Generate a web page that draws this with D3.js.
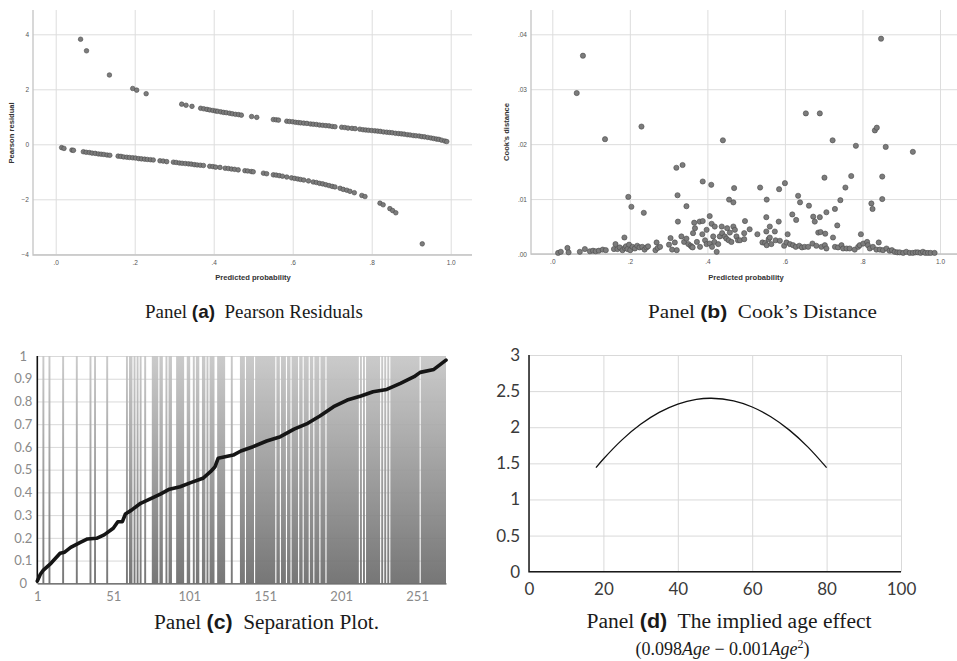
<!DOCTYPE html>
<html>
<head>
<meta charset="utf-8">
<script src="https://cdnjs.cloudflare.com/ajax/libs/d3/7.8.5/d3.min.js"></script>
<style>
	body { margin: 0; background: #fff; }
	svg { display: block; }
	.caption { font-family: 'Liberation Serif', 'Times New Roman', serif; fill: #1a1a1a; white-space: pre; }
	.caption .tag { font-family: 'Liberation Sans', Arial, sans-serif; font-weight: bold; }
</style>
</head>
<body>
<div class="container"></div>
<script>
// ---- panel (a): Pearson residuals, [predicted probability, residual]
var pearsonEvents = [
	[0.063, 3.82], [0.078, 3.40], [0.136, 2.52], [0.195, 2.03], [0.205, 1.97], [0.229, 1.84],
	[0.319, 1.46], [0.330, 1.42], [0.345, 1.38],
	[0.367, 1.31], [0.375, 1.29], [0.383, 1.27], [0.390, 1.25], [0.398, 1.23], [0.405, 1.21],
	[0.410, 1.20], [0.418, 1.18], [0.425, 1.16], [0.432, 1.15], [0.440, 1.13], [0.447, 1.11],
	[0.455, 1.09], [0.463, 1.08], [0.470, 1.06],
	[0.496, 1.01], [0.509, 0.98],
	[0.551, 0.90], [0.558, 0.89], [0.564, 0.88],
	[0.585, 0.84], [0.592, 0.83], [0.600, 0.82], [0.607, 0.80], [0.614, 0.79], [0.620, 0.78],
	[0.628, 0.77], [0.636, 0.76], [0.645, 0.74], [0.652, 0.73], [0.660, 0.72], [0.668, 0.70],
	[0.676, 0.69], [0.684, 0.68], [0.692, 0.67], [0.700, 0.65], [0.707, 0.64],
	[0.724, 0.62], [0.732, 0.61], [0.740, 0.59], [0.750, 0.58], [0.758, 0.57],
	[0.770, 0.55], [0.778, 0.53], [0.785, 0.52], [0.792, 0.51], [0.800, 0.50], [0.808, 0.49],
	[0.815, 0.48], [0.822, 0.47], [0.830, 0.45], [0.838, 0.44], [0.845, 0.43], [0.852, 0.42],
	[0.860, 0.40], [0.868, 0.39], [0.875, 0.38], [0.882, 0.37], [0.890, 0.35], [0.897, 0.34],
	[0.905, 0.32], [0.912, 0.31], [0.920, 0.30], [0.927, 0.28], [0.934, 0.27], [0.942, 0.25],
	[0.950, 0.23], [0.957, 0.21], [0.964, 0.19], [0.970, 0.18], [0.977, 0.15], [0.985, 0.12],
	[0.990, 0.10]
];

var pearsonNonEvents = [
	[0.015, -0.12], [0.021, -0.15], [0.041, -0.21], [0.045, -0.22],
	[0.070, -0.27], [0.077, -0.29], [0.085, -0.30], [0.092, -0.32], [0.100, -0.33], [0.108, -0.35],
	[0.115, -0.36], [0.122, -0.37], [0.130, -0.39], [0.137, -0.40],
	[0.158, -0.43], [0.165, -0.44], [0.172, -0.46], [0.180, -0.47], [0.187, -0.48], [0.195, -0.49],
	[0.202, -0.50], [0.210, -0.52], [0.217, -0.53], [0.225, -0.54], [0.232, -0.55], [0.240, -0.56],
	[0.247, -0.57],
	[0.264, -0.60], [0.272, -0.61], [0.281, -0.63],
	[0.298, -0.65], [0.305, -0.66], [0.313, -0.68], [0.320, -0.69], [0.328, -0.70], [0.336, -0.71],
	[0.343, -0.72], [0.351, -0.74], [0.358, -0.75], [0.366, -0.76], [0.374, -0.77],
	[0.390, -0.80], [0.398, -0.81], [0.405, -0.83], [0.416, -0.84],
	[0.429, -0.87], [0.437, -0.88], [0.445, -0.90], [0.453, -0.91], [0.462, -0.93],
	[0.479, -0.96], [0.486, -0.97], [0.495, -0.99], [0.500, -1.00],
	[0.526, -1.05], [0.534, -1.07],
	[0.551, -1.11], [0.558, -1.12], [0.566, -1.14], [0.574, -1.16], [0.585, -1.19],
	[0.597, -1.22], [0.605, -1.24], [0.613, -1.26], [0.620, -1.28], [0.628, -1.30], [0.640, -1.33],
	[0.652, -1.37], [0.660, -1.39], [0.668, -1.42], [0.676, -1.44], [0.684, -1.47], [0.692, -1.50],
	[0.700, -1.53], [0.707, -1.55],
	[0.720, -1.60], [0.728, -1.64], [0.737, -1.67], [0.745, -1.71],
	[0.756, -1.76],
	[0.775, -1.86], [0.783, -1.90],
	[0.821, -2.14], [0.829, -2.20],
	[0.846, -2.34], [0.853, -2.41], [0.861, -2.49],
	[0.928, -3.62]
];

var probTicks = [0, 0.2, 0.4, 0.6, 0.8, 1];
var pearsonTicks = [-4, -2, 0, 2, 4];

// ---- panel (b): Cook's distance, [predicted probability, distance]
var cookPoints = [
	[0.015, .0002], [0.022, .0004], [0.039, .0011], [0.042, .0003], [0.071, .0004], [0.084, .0009],
	[0.097, .0005], [0.105, .0006], [0.112, .0005], [0.120, .0006], [0.130, .0008], [0.138, .0007],
	[0.159, .0009], [0.163, .0018], [0.168, .0009], [0.174, .0012], [0.181, .0007], [0.186, .0030],
	[0.187, .0011], [0.190, .0014], [0.194, .0009], [0.198, .0017], [0.201, .0007], [0.207, .0013],
	[0.213, .0010], [0.219, .0015], [0.225, .0012], [0.232, .0013], [0.238, .0008], [0.243, .0012],
	[0.247, .0014], [0.266, .0007], [0.269, .0021], [0.272, .0011], [0.278, .0013],
	[0.301, .0017], [0.305, .0029], [0.309, .0008], [0.316, .0021], [0.321, .0007],
	[0.063, .0293], [0.079, .0361], [0.136, .0209], [0.230, .0232], [0.196, .0104], [0.204, .0086],
	[0.236, .0075], [0.320, .0157], [0.336, .0162], [0.323, .0107], [0.324, .0059], [0.346, .0087],
	[0.333, .0032],
	[0.340, .0022], [0.346, .0028], [0.351, .0018], [0.357, .0015], [0.360, .0013], [0.362, .0012],
	[0.363, .0038], [0.366, .0057], [0.368, .0047], [0.373, .0022], [0.380, .0059], [0.381, .0013],
	[0.387, .0036], [0.388, .0060], [0.394, .0025], [0.398, .0018], [0.398, .0044], [0.406, .0069],
	[0.406, .0019], [0.411, .0055], [0.412, .0013], [0.415, .0032], [0.418, .0022], [0.419, .0050],
	[0.424, .0004], [0.428, .0018], [0.432, .0032], [0.437, .0050], [0.438, .0038], [0.445, .0032],
	[0.449, .0028], [0.451, .0047], [0.455, .0025], [0.458, .0039], [0.462, .0022], [0.467, .0050],
	[0.471, .0044], [0.475, .0032], [0.479, .0025],
	[0.388, .0132], [0.410, .0126], [0.440, .0207], [0.456, .0099], [0.467, .0094], [0.469, .0120],
	[0.484, .0025], [0.495, .0027], [0.495, .0038], [0.497, .0060], [0.509, .0045], [0.529, .0036],
	[0.536, .0121], [0.542, .0021], [0.549, .0020], [0.552, .0067], [0.552, .0041], [0.553, .0099],
	[0.553, .0016], [0.558, .0027], [0.561, .0050], [0.561, .0030], [0.565, .0018], [0.574, .0041],
	[0.576, .0025], [0.584, .0059], [0.585, .0118], [0.587, .0024], [0.598, .0015], [0.600, .0129],
	[0.604, .0021], [0.607, .0036], [0.613, .0018], [0.619, .0072], [0.621, .0016], [0.628, .0013],
	[0.629, .0062], [0.634, .0106], [0.637, .0015], [0.639, .0094], [0.644, .0012], [0.651, .0013],
	[0.654, .0256], [0.660, .0013], [0.662, .0088], [0.671, .0019], [0.673, .0068], [0.677, .0059],
	[0.681, .0015], [0.686, .0039], [0.690, .0256], [0.690, .0067], [0.692, .0040], [0.694, .0013],
	[0.702, .0139], [0.703, .0016], [0.704, .0037], [0.707, .0076], [0.707, .0010], [0.723, .0207],
	[0.724, .0030], [0.729, .0082], [0.729, .0013], [0.735, .0052], [0.737, .0012], [0.743, .0098],
	[0.746, .0016], [0.750, .0010], [0.756, .0121], [0.759, .0010], [0.767, .0010], [0.771, .0142],
	[0.780, .0008], [0.783, .0197], [0.789, .0013], [0.793, .0016], [0.796, .0036], [0.802, .0019],
	[0.812, .0022], [0.814, .0016], [0.819, .0010], [0.823, .0092], [0.826, .0082], [0.827, .0013],
	[0.832, .0225], [0.836, .0008], [0.837, .0230], [0.842, .0021], [0.845, .0008], [0.848, .0392],
	[0.851, .0141], [0.851, .0100], [0.853, .0007], [0.860, .0195], [0.862, .0010], [0.870, .0006],
	[0.876, .0007], [0.883, .0004], [0.890, .0003], [0.896, .0003], [0.905, .0002], [0.913, .0004],
	[0.922, .0002], [0.930, .0186], [0.930, .0002], [0.937, .0003], [0.943, .0003], [0.950, .0002],
	[0.956, .0004], [0.962, .0002], [0.969, .0002], [0.976, .0002], [0.986, .0002]
];

var cookTicks = [0, 0.01, 0.02, 0.03, 0.04];

// ---- panel (c): separation plot
var sepCount = 270;
// observations (sorted by predicted probability) with the event, as [first, last] runs
var sepEventRuns = [
	[5, 5], [9, 9], [18, 18], [27, 27], [36, 36], [39, 39], [47, 47], [60, 60], [62, 63], [65, 65],
	[67, 67], [69, 69], [72, 72], [77, 80], [82, 83], [86, 86], [88, 89], [93, 97], [100, 101],
	[104, 104], [106, 107], [110, 111], [113, 113], [115, 117], [120, 124], [129, 129], [135, 137],
	[139, 143], [145, 157], [159, 160], [162, 164], [166, 167], [169, 172], [174, 175], [177, 179],
	[181, 182], [184, 186], [188, 190], [192, 212], [214, 214], [216, 216], [218, 226], [228, 228],
	[230, 230], [232, 232], [234, 252], [254, 270]
];
// sorted predicted probability, [observation, probability]
var sepCurve = [
	[1, 0.01], [3, 0.04], [5, 0.058], [10, 0.088], [16, 0.132], [19, 0.137], [23, 0.158], [29, 0.179],
	[34, 0.195], [40, 0.198], [45, 0.213], [51, 0.242], [54, 0.271], [57, 0.271], [59, 0.305],
	[63, 0.322], [69, 0.352], [75, 0.37], [82, 0.392], [88, 0.414], [95, 0.425], [102, 0.443],
	[110, 0.462], [115, 0.491], [118, 0.513], [120, 0.55], [130, 0.564], [135, 0.582], [143, 0.601],
	[152, 0.626], [161, 0.645], [170, 0.678], [179, 0.704], [187, 0.736], [196, 0.777], [205, 0.806],
	[214, 0.824], [222, 0.843], [231, 0.853], [240, 0.88], [249, 0.909], [253, 0.928], [262, 0.941],
	[270, 0.982]
];
var sepXTicks = [1, 51, 101, 151, 201, 251];
var sepYTicks = [0, 0.1, 0.2, 0.3, 0.4, 0.5, 0.6, 0.7, 0.8, 0.9, 1];

// ---- panel (d): implied age effect, [age, effect]
var ageCurve = [
	[18, 1.44], [20, 1.56], [25, 1.825], [30, 2.04], [35, 2.205], [40, 2.32], [45, 2.385],
	[49, 2.401], [55, 2.365], [60, 2.28], [65, 2.145], [70, 1.96], [75, 1.725], [80, 1.44]
];
var ageTicks = [0, 20, 40, 60, 80, 100];
var effectTicks = [0, 0.5, 1, 1.5, 2, 2.5, 3];


var svg = d3.select('.container')
	.append('svg')
	.attr('width', 957)
	.attr('height', 661);

var fmtProb = function (d) {
	return d === 1 ? '1.0' : d3.format('.1f')(d).replace(/^0/, '');
};

// SPSS-style scatter panel
function spssPanel(opts) {
	var f = opts.frame,
		g = svg.append('g'),
		gx, gy;

	gx = g.append('g')
		.attr('transform', 'translate(0,' + f.bottom + ')')
		.call(d3.axisBottom(opts.x)
			.tickValues(probTicks)
			.tickSize(-(f.bottom - f.top))
			.tickPadding(5)
			.tickFormat(opts.xFormat));

	gy = g.append('g')
		.attr('transform', 'translate(' + f.left + ',0)')
		.call(d3.axisLeft(opts.y)
			.tickValues(opts.yTicks)
			.tickSize(-(f.right - f.left))
			.tickPadding(4)
			.tickFormat(opts.yFormat));

	[gx, gy].forEach(function (a) {
		a.select('.domain').remove();
		a.selectAll('line').attr('stroke', '#dddddd').attr('stroke-width', 1);
		a.selectAll('text')
			.attr('fill', '#555')
			.style('font-family', "'Liberation Sans', Arial, sans-serif")
			.style('font-size', '6.5px');
	});

	// frame
	g.append('path')
		.attr('d', 'M' + f.left + ',' + f.top + 'V' + f.bottom + 'H' + f.right)
		.attr('fill', 'none')
		.attr('stroke', '#c4c4c4')
		.attr('stroke-width', 1.3);

	opts.series.forEach(function (data) {
		g.append('g')
			.selectAll('circle')
			.data(data)
			.enter().append('circle')
			.attr('cx', function (d) { return opts.x(d[0]); })
			.attr('cy', function (d) { return opts.y(d[1]); })
			.attr('r', opts.r)
			.attr('fill', '#7c7c7c')
			.attr('stroke', '#4a4a4a')
			.attr('stroke-width', 0.6);
	});

	g.append('text')
		.text('Predicted probability')
		.attr('x', opts.xTitle[0])
		.attr('y', opts.xTitle[1])
		.attr('text-anchor', 'middle')
		.attr('fill', '#333')
		.style('font-family', "'Liberation Sans', Arial, sans-serif")
		.style('font-weight', 'bold')
		.style('font-size', '7.6px');

	g.append('text')
		.text(opts.yTitle)
		.attr('transform', 'translate(' + opts.yTitlePos[0] + ',' + opts.yTitlePos[1] + ') rotate(-90)')
		.attr('text-anchor', 'middle')
		.attr('fill', '#333')
		.style('font-family', "'Liberation Sans', Arial, sans-serif")
		.style('font-weight', 'bold')
		.style('font-size', '7.6px');
}

spssPanel({
	frame: { left: 33, right: 472, top: 10, bottom: 255 },
	x: d3.scaleLinear().domain([0, 1]).range([55.7, 450.7]),
	y: d3.scaleLinear().domain([-4, 4]).range([254.3, 34.3]),
	yTicks: pearsonTicks,
	xFormat: fmtProb,
	yFormat: d3.format('d'),
	series: [pearsonEvents, pearsonNonEvents],
	r: 2.3,
	xTitle: [253, 280],
	yTitle: 'Pearson residual',
	yTitlePos: [14, 133]
});

spssPanel({
	frame: { left: 531, right: 957, top: 10, bottom: 254 },
	x: d3.scaleLinear().domain([0, 1]).range([552.3, 940]),
	y: d3.scaleLinear().domain([0, 0.04]).range([254, 34.3]),
	yTicks: cookTicks,
	xFormat: fmtProb,
	yFormat: function (d) { return d3.format('.2f')(d).replace(/^0/, ''); },
	series: [cookPoints],
	r: 2.6,
	xTitle: [746, 280],
	yTitle: 'Cook\u2019s distance',
	yTitlePos: [509, 132]
});

// ---- separation plot
(function () {
	var left = 37.3, right = 446, top = 356, bottom = 583.3,
		x = d3.scaleLinear().domain([1, sepCount]).range([left, right]),
		y = d3.scaleLinear().domain([0, 1]).range([bottom, top]),
		half = (x(2) - x(1)) / 2 + 0.2,
		g = svg.append('g'),
		grad, gy, gx;

	grad = svg.append('defs').append('linearGradient')
		.attr('id', 'sepFill')
		.attr('gradientUnits', 'userSpaceOnUse')
		.attr('x1', 0).attr('x2', 0)
		.attr('y1', top).attr('y2', bottom);
	grad.append('stop').attr('offset', 0).attr('stop-color', '#c6c6c6');
	grad.append('stop').attr('offset', 1).attr('stop-color', '#6b6b6b');

	gy = g.append('g')
		.attr('transform', 'translate(' + left + ',0)')
		.call(d3.axisLeft(y)
			.tickValues(sepYTicks)
			.tickSize(-(right - left))
			.tickPadding(14)
			.tickFormat(d3.format('~g')));
	gy.select('.domain').remove();
	gy.selectAll('line').attr('stroke', '#d9d9d9');
	gy.selectAll('text')
		.attr('text-anchor', 'middle')
		.attr('fill', '#8a8a8a')
		.style('font-family', 'Lato, sans-serif')
		.style('font-size', '13px');

	g.append('g')
		.selectAll('rect')
		.data(sepEventRuns)
		.enter().append('rect')
		.attr('x', function (d) { return Math.max(left, x(d[0]) - half); })
		.attr('width', function (d) {
			return Math.min(right, x(d[1]) + half) - Math.max(left, x(d[0]) - half);
		})
		.attr('y', top)
		.attr('height', bottom - top)
		.attr('fill', 'url(#sepFill)')
		.attr('fill-opacity', 0.92);

	gx = g.append('g')
		.attr('transform', 'translate(0,' + bottom + ')')
		.call(d3.axisBottom(x)
			.tickValues(sepXTicks)
			.tickSize(0)
			.tickPadding(8));
	gx.select('.domain').attr('stroke', '#555').attr('stroke-width', 1.2);
	gx.selectAll('text')
		.attr('fill', '#8a8a8a')
		.style('font-family', 'Lato, sans-serif')
		.style('font-size', '13px');

	g.append('line')
		.attr('x1', left).attr('x2', left)
		.attr('y1', top).attr('y2', bottom)
		.attr('stroke', '#111')
		.attr('stroke-width', 1.6);

	g.append('path')
		.datum(sepCurve)
		.attr('d', d3.line()
			.x(function (d) { return x(d[0]); })
			.y(function (d) { return y(d[1]); }))
		.attr('fill', 'none')
		.attr('stroke', '#151515')
		.attr('stroke-width', 3.6)
		.attr('stroke-linejoin', 'round')
		.attr('stroke-linecap', 'round');
})();

// ---- implied age effect
(function () {
	var left = 529, right = 901, top = 355, bottom = 571.7,
		x = d3.scaleLinear().domain([0, 100]).range([left, right]),
		y = d3.scaleLinear().domain([0, 3]).range([bottom, top]),
		g = svg.append('g'),
		gx, gy;

	gy = g.append('g')
		.attr('transform', 'translate(' + left + ',0)')
		.call(d3.axisLeft(y)
			.tickValues(effectTicks)
			.tickSize(-(right - left))
			.tickPadding(9)
			.tickFormat(d3.format('~g')));

	gx = g.append('g')
		.attr('transform', 'translate(0,' + bottom + ')')
		.call(d3.axisBottom(x)
			.tickValues(ageTicks)
			.tickSize(-(bottom - top))
			.tickPadding(11));

	[gx, gy].forEach(function (a) {
		a.select('.domain').remove();
		a.selectAll('line').attr('stroke', '#d9d9d9');
		a.selectAll('text')
			.attr('fill', '#3a3a3a')
			.style('font-family', 'Lato, sans-serif')
			.style('font-size', '17px');
	});

	g.append('path')
		.attr('d', 'M' + left + ',' + top + 'V' + bottom + 'H' + right)
		.attr('fill', 'none')
		.attr('stroke', '#1a1a1a')
		.attr('stroke-width', 1.5);

	g.append('path')
		.datum(ageCurve)
		.attr('d', d3.line()
			.x(function (d) { return x(d[0]); })
			.y(function (d) { return y(d[1]); })
			.curve(d3.curveCatmullRom))
		.attr('fill', 'none')
		.attr('stroke', '#111')
		.attr('stroke-width', 1.3);
})();

// ---- captions
function caption(x, y, tag, rest, size, len) {
	var t = svg.append('text')
		.attr('class', 'caption')
		.attr('x', x)
		.attr('y', y)
		.attr('text-anchor', 'middle')
		.style('font-size', size + 'px');

	t.append('tspan').text('Panel ');
	t.append('tspan').attr('class', 'tag').text(tag);
	t.append('tspan').text('  ' + rest);

	if (len) {
		t.attr('textLength', len).attr('lengthAdjust', 'spacingAndGlyphs');
	}
}

caption(254, 318, '(a)', 'Pearson Residuals', 19, 218);
caption(762.5, 318, '(b)', 'Cook\u2019s Distance', 19, 229);
caption(266.5, 629, '(c)', 'Separation Plot.', 20, 225);
caption(729, 628, '(d)', 'The implied age effect', 20, 285);

(function () {
	var t = svg.append('text')
		.attr('class', 'caption')
		.attr('x', 722.5)
		.attr('y', 655)
		.attr('text-anchor', 'middle')
		.style('font-size', '18px');

	t.append('tspan').text('(0.098');
	t.append('tspan').style('font-style', 'italic').text('Age');
	t.append('tspan').text(' \u2212 0.001');
	t.append('tspan').style('font-style', 'italic').text('Age');
	t.append('tspan').attr('baseline-shift', 'super').style('font-size', '12px').text('2');
	t.append('tspan').text(')');
})();
</script>
</body>
</html>
